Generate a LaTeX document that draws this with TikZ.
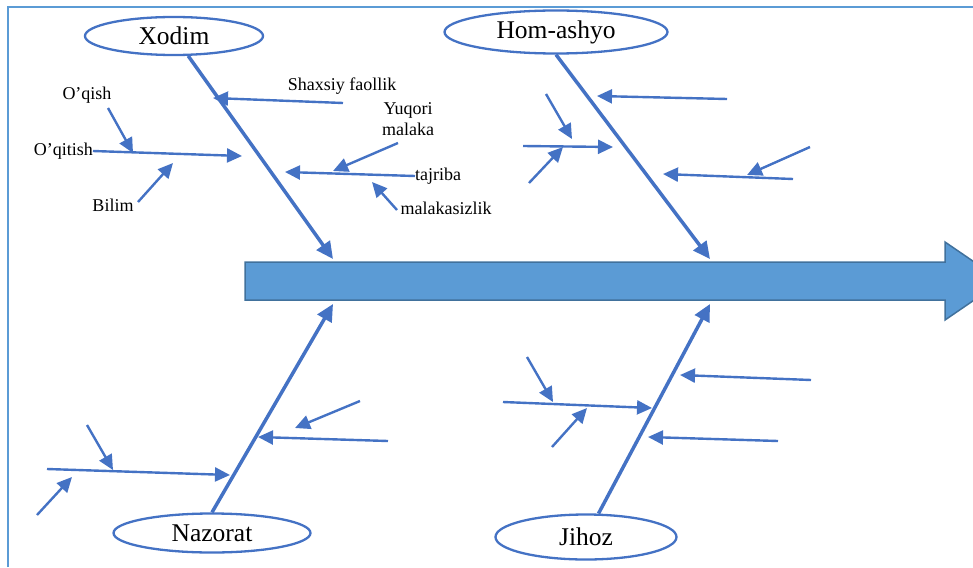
\documentclass[tikz,border=0pt]{standalone}
\usepackage{fontspec}
\setmainfont{Liberation Serif}
\usetikzlibrary{arrows.meta,shapes.geometric,positioning}
\definecolor{bonecol}{HTML}{4472C4}
\definecolor{spinefill}{HTML}{5B9BD5}
\definecolor{spineline}{HTML}{41719C}
\definecolor{framecol}{HTML}{5B9BD5}
\tikzset{
  cat/.style={ellipse, draw=bonecol, line width=2.3pt, inner sep=0pt,
    font=\fontsize{25.5}{28}\selectfont},
  lbl/.style={inner sep=0pt, font=\fontsize{18}{21}\selectfont},
  bone/.style={draw=bonecol, line width=3.5pt, -{Triangle[length=17pt,width=16pt]}},
  twig/.style={draw=bonecol, line width=2.4pt, -{Triangle[length=15pt,width=14pt]}},
}
\begin{document}
\begin{tikzpicture}[x=1pt, y=-1pt]
  \useasboundingbox (0,0) rectangle (973,567);
  \clip (0,0) rectangle (973,567);
  % frame
  \draw[framecol, line width=1.5pt] (8,567) -- (8,7) -- (973,7);
  % spine
  \filldraw[fill=spinefill, draw=spineline, line width=1.5pt]
    (245,262) -- (945,262) -- (945,242) -- (1002,281) -- (945,320)
    -- (945,300) -- (245,300) -- cycle;

  % categories
  \node[cat, minimum width=178pt, minimum height=38pt] (X) at (174,36) {Xodim};
  \node[cat, minimum width=223pt, minimum height=43pt] (H) at (556,32) {Hom-ashyo};
  \node[cat, minimum width=197pt, minimum height=39pt] (N) at (212,533) {Nazorat};
  \node[cat, minimum width=181pt, minimum height=45pt] (J) at (586,537) {Jihoz};

  \coordinate (Xt) at (333,259);
  \coordinate (Ht) at (710,259);
  \coordinate (Nt) at (333,304);
  \coordinate (Jt) at (710,304);
  \draw[bone] (X) -- (Xt);
  \draw[bone] (H.south) -- (Ht);
  \draw[bone] (N.north) -- (Nt);
  \draw[bone] (J) -- (Jt);

  % Xodim
  \node[lbl] (SF) at (342,86) {Shaxsiy faollik};
  \node[lbl] (OQ) at (87,95) {O’qish};
  \node[lbl] (BL) at (113,205) {Bilim};
  \node[lbl, align=center] (YM) at (408,119) {Yuqori\\malaka};
  \node[lbl] (MS) at (446,208) {malakasizlik};
  \coordinate (a1) at (343,103);
  \coordinate (a2) at (213,98);
  \coordinate (b1) at (93,151);
  \coordinate (b2) at (242,156);
  \node[lbl, left=0pt of b1] (OT) {O’qitish};
  \coordinate (b3) at (108,108);
  \coordinate (b4) at (133,153);
  \coordinate (b5) at (138,202);
  \coordinate (b6) at (173,163);
  \coordinate (c1) at (413,176);
  \coordinate (c2) at (285,172);
  \node[lbl, right=2pt of c1] (TJ) {tajriba};
  \coordinate (c3) at (398,143);
  \coordinate (c4) at (333,171);
  \coordinate (c5) at (397,210);
  \coordinate (c6) at (372,182);
  \draw[twig] (a1) -- (a2);
  \draw[twig] (OT.east) -- (b2);
  \draw[twig] (b3) -- (b4);
  \draw[twig] (b5) -- (b6);
  \draw[twig] (TJ.west) -- (c2);
  \draw[twig] (c3) -- (c4);
  \draw[twig] (c5) -- (c6);

  % Hom-ashyo
  \coordinate (d1) at (727,99);
  \coordinate (d2) at (597,96);
  \coordinate (d3) at (523,146);
  \coordinate (d4) at (613,147);
  \coordinate (d5) at (546,94);
  \coordinate (d6) at (572,139);
  \coordinate (d7) at (529,183);
  \coordinate (d8) at (563,147);
  \coordinate (d9) at (793,179);
  \coordinate (d10) at (663,174);
  \coordinate (d11) at (810,147);
  \coordinate (d12) at (747,175);
  \draw[twig] (d1) -- (d2);
  \draw[twig] (d3) -- (d4);
  \draw[twig] (d5) -- (d6);
  \draw[twig] (d7) -- (d8);
  \draw[twig] (d9) -- (d10);
  \draw[twig] (d11) -- (d12);

  % Nazorat
  \coordinate (e1) at (47,469);
  \coordinate (e2) at (230,475);
  \coordinate (e3) at (87,425);
  \coordinate (e4) at (113,470);
  \coordinate (e5) at (37,515);
  \coordinate (e6) at (72,477);
  \coordinate (e7) at (388,441);
  \coordinate (e8) at (258,437);
  \coordinate (e9) at (360,401);
  \coordinate (e10) at (295,428);
  \draw[twig] (e1) -- (e2);
  \draw[twig] (e3) -- (e4);
  \draw[twig] (e5) -- (e6);
  \draw[twig] (e7) -- (e8);
  \draw[twig] (e9) -- (e10);

  % Jihoz
  \coordinate (f1) at (503,402);
  \coordinate (f2) at (652,408);
  \coordinate (f3) at (527,357);
  \coordinate (f4) at (553,402);
  \coordinate (f5) at (552,447);
  \coordinate (f6) at (587,408);
  \coordinate (f7) at (811,380);
  \coordinate (f8) at (680,375);
  \coordinate (f9) at (778,441);
  \coordinate (f10) at (648,437);
  \draw[twig] (f1) -- (f2);
  \draw[twig] (f3) -- (f4);
  \draw[twig] (f5) -- (f6);
  \draw[twig] (f7) -- (f8);
  \draw[twig] (f9) -- (f10);
\end{tikzpicture}
\end{document}
